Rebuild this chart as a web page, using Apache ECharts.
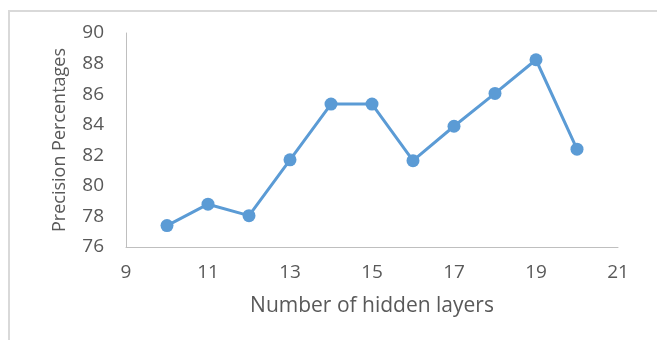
<!DOCTYPE html>
<html>
<head>
<meta charset="utf-8">
<script src="https://cdn.jsdelivr.net/npm/echarts@6/dist/echarts.min.js"></script>
<style>
  html, body { margin: 0; padding: 0; background: #fff; }
  #frame { position: absolute; left: 8px; top: 10px; width: 700px; height: 400px; border: 2px solid #d9d9d9; box-sizing: border-box; }
  #chart { position: absolute; left: 0; top: 0; width: 657px; height: 340px; }
</style>
</head>
<body>
<div id="frame"></div>
<div id="chart"></div>
<script>
// hidden layers vs precision (%)
var hiddenLayers = [10, 11, 12, 13, 14, 15, 16, 17, 18, 19, 20];
var precision = [77.4, 78.8, 78.05, 81.7, 85.35, 85.35, 81.65, 83.9, 86.05, 88.25, 82.4];
var xTitle = 'Number of hidden layers';
var yTitle = 'Precision Percentages';

var points = [];
for (var i = 0; i < hiddenLayers.length; i++) {
    points.push([hiddenLayers[i], precision[i]]);
}

var labelStyle = { color: '#595959', fontFamily: 'Open Sans', fontSize: 19 };

var chart = echarts.init(document.getElementById('chart'));
chart.setOption({
    animation: false,
    grid: { left: 126, right: 39, top: 33, bottom: 93 },
    xAxis: {
        type: 'value',
        min: 9, max: 21, interval: 2,
        name: xTitle,
        nameLocation: 'middle',
        nameGap: 49,
        nameTextStyle: { color: '#595959', fontFamily: 'Open Sans', fontSize: 21 },
        axisLine: { lineStyle: { color: '#bfbfbf', width: 1 } },
        axisTick: { show: false },
        splitLine: { show: false },
        axisLabel: Object.assign({ margin: 16 }, labelStyle)
    },
    yAxis: {
        type: 'value',
        min: 76, max: 90, interval: 2,
        name: yTitle,
        nameLocation: 'middle',
        nameGap: 57,
        nameTextStyle: { color: '#595959', fontFamily: 'Open Sans', fontSize: 18 },
        axisLine: { show: true, lineStyle: { color: '#bfbfbf', width: 1 } },
        axisTick: { show: false },
        splitLine: { show: false },
        axisLabel: Object.assign({ margin: 22 }, labelStyle)
    },
    series: [{
        type: 'line',
        data: points,
        symbol: 'circle',
        symbolSize: 13,
        lineStyle: { color: '#5b9bd5', width: 3 },
        itemStyle: { color: '#5b9bd5' }
    }]
});
</script>
</body>
</html>
